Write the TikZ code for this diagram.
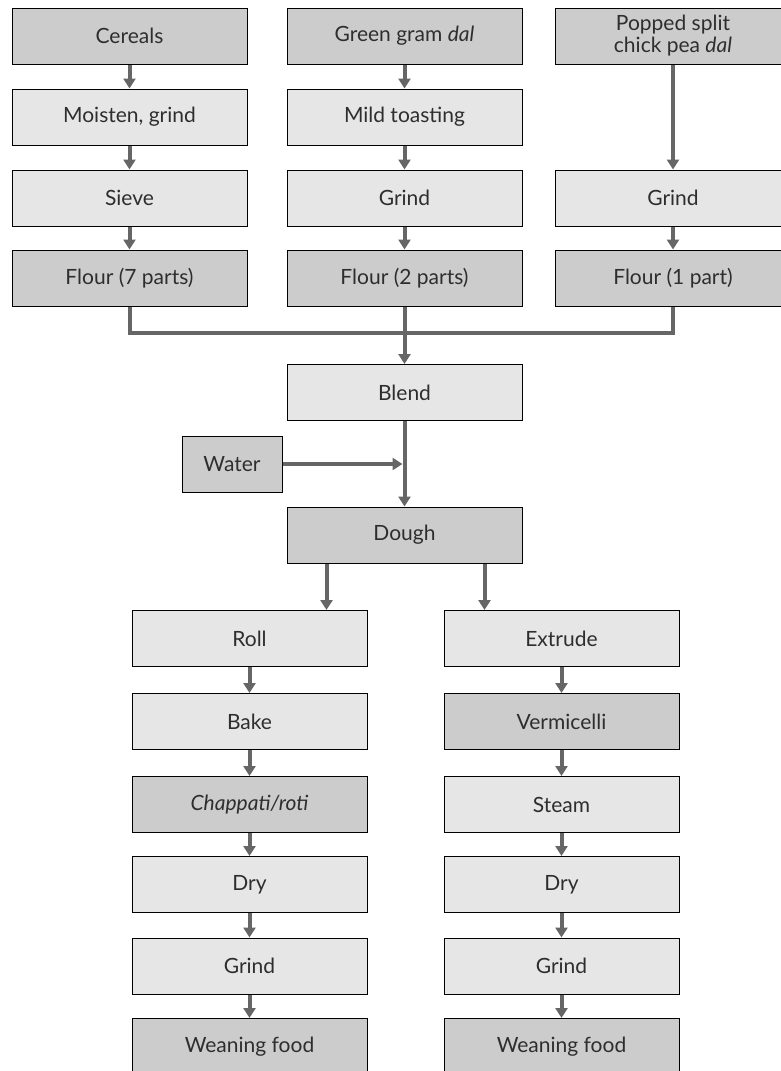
\documentclass[tikz,border=0pt]{standalone}
\usepackage{fontspec}
\setmainfont{Lato}
\usetikzlibrary{arrows.meta}

\definecolor{boxdark}{HTML}{CCCCCC}
\definecolor{boxlight}{HTML}{E6E6E6}
\definecolor{flowgray}{HTML}{666666}
\definecolor{inkgray}{HTML}{2E2E2E}

\tikzset{
  stage/.style={draw=black, line width=1pt, fill=boxlight, minimum width=235, minimum height=56,
    inner sep=0pt, align=center, text=inkgray, font=\fontsize{21}{22}\selectfont},
  product/.style={stage, fill=boxdark},
  flow/.style={draw=flowgray, line width=4pt, -{Triangle[width=12pt,length=10pt]}},
  flowline/.style={draw=flowgray, line width=4pt}
}

\begin{document}
\begin{tikzpicture}[x=1pt,y=-1pt]
        \useasboundingbox (0,0) rectangle (781,1071);

        % Upper columns
        \node[product] (cereals) at (129.5,36) {Cereals};
        \node[stage]   (moisten) at (129.5,117) {Moisten, grind};
        \node[stage]   (sieve)   at (129.5,198) {Sieve};
        \node[product] (flourA)  at (129.5,278) {Flour (7 parts)};

        \node[product] (gram)    at (404.5,36) {Green gram \textit{dal}};
        \node[stage]   (toast)   at (404.5,117) {Mild toasting};
        \node[stage]   (grindB)  at (404.5,198) {Grind};
        \node[product] (flourB)  at (404.5,278) {Flour (2 parts)};

        \node[product] (popped)  at (673,36) {Popped split\\chick pea \textit{dal}};
        \node[stage]   (grindC)  at (673,198) {Grind};
        \node[product] (flourC)  at (673,278) {Flour (1 part)};

        % Upper arrows
        \draw[flow] (cereals) -- (moisten);
        \draw[flow] (moisten) -- (sieve);
        \draw[flow] (sieve) -- (flourA);
        \draw[flow] (gram) -- (toast);
        \draw[flow] (toast) -- (grindB);
        \draw[flow] (grindB) -- (flourB);
        \draw[flow] (popped) -- (grindC);
        \draw[flow] (grindC) -- (flourC);

        % Blending
        \node[stage]   (blend)   at (404.5,392.5) {Blend};
        \node[product, minimum width=100] (water) at (232,464) {Water};
        \node[product] (dough)   at (404.5,535) {Dough};

        \coordinate (join) at (404.5,333);
        \draw[flowline] (flourA.south) |- (join) -| (flourC.south);
        \draw[flow] (flourB) -- (blend);
        \draw[flow] (blend) -- (dough);
        \coordinate (mix) at (blend.south |- water.east);
        \draw[flow] (water.east) -- ([xshift=-2]mix);

        % Lower columns
        \node[stage]   (roll)    at (249.5,638.5) {Roll};
        \node[stage]   (bake)    at (249.5,721.5) {Bake};
        \node[product] (roti)    at (249.5,804.5) {\textit{Chappati/roti}};
        \node[stage]   (dryL)    at (249.5,884.5) {Dry};
        \node[stage]   (grindL)  at (249.5,966) {Grind};
        \node[product] (foodL)   at (249.5,1046.5) {Weaning food};

        \node[stage]   (extrude) at (561.5,638.5) {Extrude};
        \node[product] (vermi)   at (561.5,721.5) {Vermicelli};
        \node[stage]   (steam)   at (561.5,804.5) {Steam};
        \node[stage]   (dryR)    at (561.5,884.5) {Dry};
        \node[stage]   (grindR)  at (561.5,966) {Grind};
        \node[product] (foodR)   at (561.5,1046.5) {Weaning food};

        % Lower arrows
        \coordinate (splitL) at ([xshift=40]dough.south west);
        \coordinate (splitR) at ([xshift=-38]dough.south east);
        \draw[flow] (splitL) -- (splitL |- roll.north);
        \draw[flow] (splitR) -- (splitR |- extrude.north);
        \draw[flow] (roll) -- (bake);
        \draw[flow] (bake) -- (roti);
        \draw[flow] (roti) -- (dryL);
        \draw[flow] (dryL) -- (grindL);
        \draw[flow] (grindL) -- (foodL);
        \draw[flow] (extrude) -- (vermi);
        \draw[flow] (vermi) -- (steam);
        \draw[flow] (steam) -- (dryR);
        \draw[flow] (dryR) -- (grindR);
        \draw[flow] (grindR) -- (foodR);
    \end{tikzpicture}
\end{document}
